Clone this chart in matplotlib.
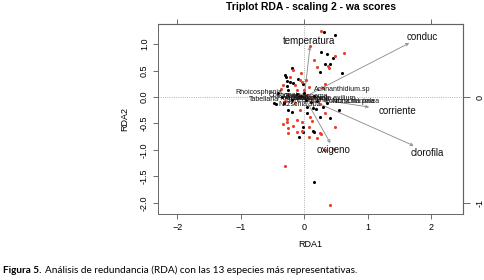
import matplotlib
matplotlib.use('Agg')
import matplotlib.pyplot as plt

# puntajes de sitios (wa)
negro_x = [0.31, 0.49, 0.27, 0.35, 0.45, 0.33, 0.41, 0.24, 0.59, -0.19, -0.30, -0.28, -0.10,
           -0.27, -0.22, -0.18, -0.02, -0.27, -0.26, -0.41, -0.44, -0.32, -0.19, 0.05, 0.14,
           0.19, 0.30, 0.55, 0.05, 0.25, 0.40, -0.02, -0.02, 0.15, -0.09, 0.14, 0.15, -0.25,
           -0.47, -0.12, -0.05, 0.03, 0.10, -0.20, 0.20, 0.35, -0.35, 0.00, 0.15]
negro_y = [1.23, 1.17, 0.85, 0.81, 0.73, 0.63, 0.63, 0.48, 0.46, 0.55, 0.42, 0.37, 0.35,
           0.31, 0.29, 0.26, 0.25, 0.21, 0.14, 0.07, -0.13, -0.11, -0.28, -0.19, -0.21,
           -0.23, -0.19, -0.25, -0.30, -0.38, -0.40, -0.56, -0.66, -0.66, -0.75, -0.64, -1.60,
           -0.25, -0.12, 0.05, 0.02, -0.05, -0.10, -0.05, -0.08, -0.12, 0.00, 0.08, 0.02]

rojo_x = [0.27, 0.09, 0.63, 0.49, 0.15, 0.20, 0.37, 0.39, -0.17, -0.05, -0.22, -0.07, 0.03,
          -0.04, -0.14, 0.33, -0.33, 0.08, -0.36, -0.12, 0.00, 0.30, -0.07, 0.24, 0.33, 0.09,
          -0.11, -0.27, -0.18, -0.04, 0.12, 0.08, -0.33, -0.26, 0.48, -0.12, 0.24, -0.26,
          -0.04, 0.07, 0.20, 0.27, 0.33, 0.46, -0.30, 0.41, -0.27, -0.25, -0.10, 0.05, 0.12,
          -0.30, 0.25, -0.15]
rojo_y = [1.25, 0.96, 0.83, 0.78, 0.70, 0.57, 0.58, 0.54, 0.51, 0.46, 0.38, 0.33, 0.33,
          0.29, 0.23, 0.25, 0.23, 0.19, 0.15, 0.13, 0.14, 0.17, -0.25, -0.13, -0.30, -0.38,
          -0.43, -0.41, -0.55, -0.48, -0.46, -0.56, -0.51, -0.59, -0.57, -0.66, -0.68, -0.68,
          -0.65, -0.76, -0.78, -0.69, -1.00, -0.99, -1.31, -2.05, -0.47, 0.05, 0.00, 0.03,
          -0.05, -0.08, -0.02, -0.12]

# especies
especies = ['Achnanthidium.sp', 'Rhoicosphenia', 'Tabellaria', 'Nitzschia.sp2', 'Cocconeis',
            'Navicula', 'Gomphonema', 'Encyonema', 'Synedra.ulna', 'Cymbella.exilium',
            'Eolimna.minima', 'Nitzschia.palea', 'Fragilaria']
esp_x = [0.60, -0.71, -0.64, -0.08, -0.30, -0.15, 0.02, 0.10, 0.05, 0.40, 0.72, 0.80, -0.20]
esp_y = [0.15, 0.08, -0.04, -0.15, 0.02, 0.00, 0.01, -0.03, -0.06, -0.02, -0.09, -0.08, -0.03]

# variables ambientales (flechas)
variables = ['temperatura', 'conduc', 'corriente', 'clorofila', 'oxigeno']
var_x = [0.09, 1.65, 1.02, 1.72, 0.41]
var_y = [0.96, 1.02, -0.19, -0.92, -0.87]
etiq_x = [0.08, 1.85, 1.46, 1.94, 0.46]
etiq_y = [1.06, 1.13, -0.26, -1.05, -1.00]

plt.rcParams['font.family'] = ['Liberation Sans', 'DejaVu Sans']

fig = plt.figure(figsize=(4.85, 2.8), dpi=100)
ax = fig.add_axes([0.326, 0.236, 0.629, 0.678])

ax.axhline(0, color='#999999', lw=0.6, ls=':', zorder=1)
ax.axvline(0, color='#999999', lw=0.6, ls=':', zorder=1)

ax.scatter(negro_x, negro_y, s=5, color='black', lw=0, zorder=3)
ax.scatter(rojo_x, rojo_y, s=5, color='#e8402a', lw=0, zorder=3)

for nom, x, y in zip(especies, esp_x, esp_y):
    ax.text(x, y, nom, fontsize=5, ha='center', va='center', color='#111111', zorder=4)

for nom, x, y, lx, ly in zip(variables, var_x, var_y, etiq_x, etiq_y):
    ax.annotate('', xy=(x, y), xytext=(0, 0),
                arrowprops=dict(arrowstyle='->', color='#888888', lw=0.6,
                                mutation_scale=5, shrinkA=0, shrinkB=0), zorder=2)
    ax.text(lx, ly, nom, fontsize=7, ha='center', va='center', color='#111111', zorder=4)

ax.set_xlim(-2.3, 2.5)
ax.set_ylim(-2.21, 1.38)
ax.set_xticks([-2, -1, 0, 1, 2])
ax.set_yticks([1.0, 0.5, 0.0, -0.5, -1.0, -1.5, -2.0])
ax.set_yticklabels(['1.0', '0.5', '0.0', '-0.5', '-1.0', '-1.5', '-2.0'], rotation=90, va='center')
ax.tick_params(labelsize=6.5, length=3.5, width=0.6, color='#555555', pad=3)
for s in ax.spines.values():
    s.set_color('#666666')
    s.set_linewidth(0.7)

# ejes secundarios (escala de especies)
top = ax.secondary_xaxis('top', functions=(lambda v: v / 2, lambda v: v * 2))
top.set_xticks([-1, 0, 1])
top.set_xticklabels([])
top.tick_params(length=3.5, width=0.6, color='#555555')
der = ax.secondary_yaxis('right', functions=(lambda v: v / 2, lambda v: v * 2))
der.set_yticks([0, -1])
der.set_yticklabels(['0', '-1'], rotation=90, va='center')
der.tick_params(length=5, width=0.6, color='#555555', labelsize=6.5, pad=4)

ax.set_xlabel('RDA1', fontsize=6.5, labelpad=6)
ax.set_ylabel('RDA2', fontsize=6.5, labelpad=8)
ax.set_title('Triplot RDA - scaling 2 - wa scores', fontsize=7.5, fontweight='bold', pad=10)

# pie de figura
t1 = fig.text(0.006, 0.026, 'Figura 5.', fontsize=7.2, fontweight='bold', family='Lato')
fig.canvas.draw()
bb = t1.get_window_extent()
fig.text(bb.x1 / fig.bbox.width + 0.007, 0.026,
         'Análisis de redundancia (RDA) con las 13 especies más representativas.',
         fontsize=7.2, family='Lato')

fig.savefig('out.png', dpi=100)
